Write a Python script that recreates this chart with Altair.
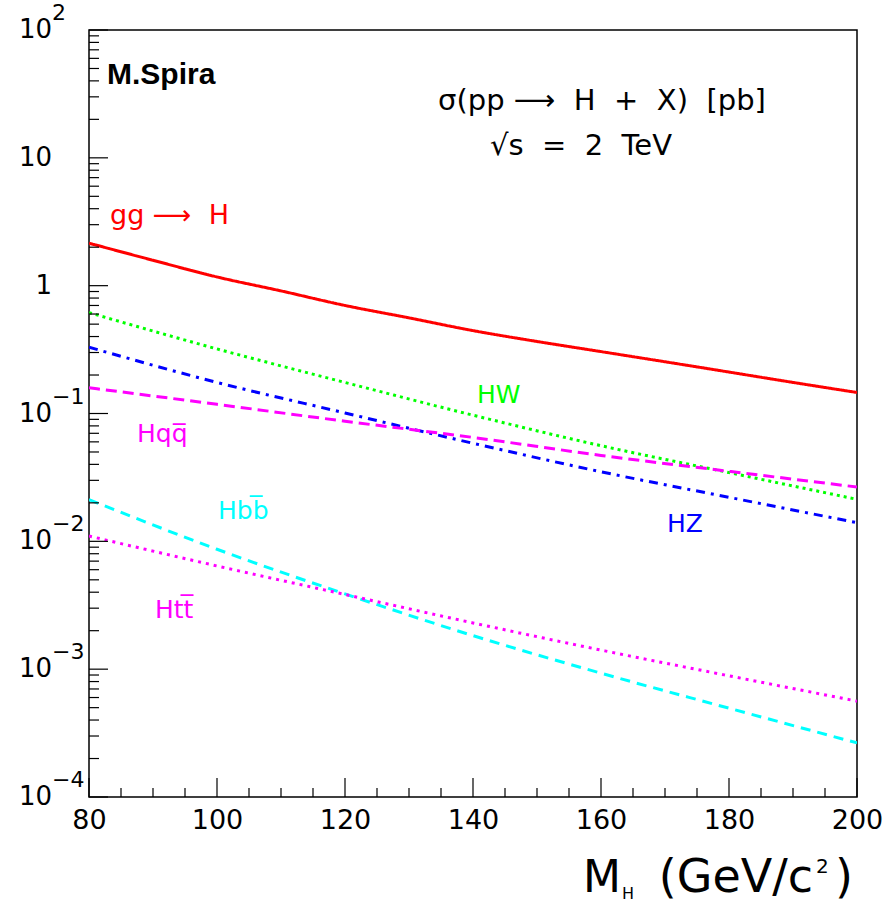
import altair as alt
import pandas as pd

# ---- data ----
gg_mass = [80, 90, 100, 110, 120, 130, 140, 150, 160, 170, 180, 190, 200]
gg_xsec = [2.15, 1.58, 1.17, 0.91, 0.70, 0.56, 0.445, 0.366, 0.305, 0.254, 0.211, 0.175, 0.146]

mass = [80, 100, 120, 140, 160, 180, 200]
hw_xsec = [0.615, 0.32, 0.175, 0.097, 0.056, 0.0345, 0.0213]
hz_xsec = [0.33, 0.175, 0.101, 0.0585, 0.035, 0.0221, 0.014]
hqq_xsec = [0.159, 0.118, 0.087, 0.065, 0.047, 0.0353, 0.0266]
hbb_xsec = [0.0212, 0.00867, 0.00388, 0.00183, 0.00093, 0.000495, 0.000265]
htt_xsec = [0.011, 0.00642, 0.00384, 0.0023, 0.00141, 0.000887, 0.000562]

series_names = ["gg", "HW", "HZ", "Hqq", "Hbb", "Htt"]
series_colors = ["#ff0000", "#00ff00", "#0000ff", "#ff00ff", "#00ffff", "#ff00ff"]
series_dash = [[1, 0], [3, 4], [9, 6, 3, 6], [11, 6], [10, 7], [3, 5]]

x_major = [80, 100, 120, 140, 160, 180, 200]
x_minor = [85, 90, 95, 105, 110, 115, 125, 130, 135, 145, 150, 155, 165, 170, 175, 185, 190, 195]
y_major = [1e2, 1e1, 1.0, 1e-1, 1e-2, 1e-3, 1e-4]
y_mant = ["10", "10", "1", "10", "10", "10", "10"]
y_exp = ["2", "", "", "\u22121", "\u22122", "\u22123", "\u22124"]
y_minor = [m * 10.0 ** k for k in range(-4, 2) for m in range(2, 10)]

rows = []
for m, v in zip(gg_mass, gg_xsec):
    rows.append({"series": "gg", "mass": m, "xsec": v})
for name, vals in zip(series_names[1:], [hw_xsec, hz_xsec, hqq_xsec, hbb_xsec, htt_xsec]):
    for m, v in zip(mass, vals):
        rows.append({"series": name, "mass": m, "xsec": v})
df = pd.DataFrame(rows)

W, H = 768, 767
xscale = alt.Scale(domain=[80, 200], nice=False, zero=False)
yscale = alt.Scale(type="log", domain=[1e-4, 1e2], nice=False)
xaxis = alt.Axis(values=x_major, ticks=False, domain=False, grid=False,
                 labelFontSize=27, labelFont="DejaVu Sans", labelColor="black",
                 labelPadding=10, labelFlush=False, labelOverlap=False, title=None)

X = lambda: alt.X("mass:Q", scale=xscale, axis=xaxis)
Y = lambda: alt.Y("xsec:Q", scale=yscale, axis=None)

lines = alt.Chart(df).mark_line(strokeWidth=3, clip=True, interpolate="monotone").encode(
    x=X(), y=Y(),
    color=alt.Color("series:N", scale=alt.Scale(domain=series_names, range=series_colors), legend=None),
    strokeDash=alt.StrokeDash("series:N", scale=alt.Scale(domain=series_names, range=series_dash), legend=None),
    detail="series:N",
)

# ticks drawn inward
xmaj = alt.Chart(pd.DataFrame({"mass": x_major})).mark_rule(color="black", strokeWidth=1.2).encode(
    x=X(), y=alt.value(H), y2=alt.value(H - 19))
xmin = alt.Chart(pd.DataFrame({"mass": x_minor})).mark_rule(color="black", strokeWidth=1.2).encode(
    x=X(), y=alt.value(H), y2=alt.value(H - 9))
ymaj = alt.Chart(pd.DataFrame({"xsec": y_major})).mark_rule(color="black", strokeWidth=1.2).encode(
    y=Y(), x=alt.value(0), x2=alt.value(19))
ymin = alt.Chart(pd.DataFrame({"xsec": y_minor})).mark_rule(color="black", strokeWidth=1.2).encode(
    y=Y(), x=alt.value(0), x2=alt.value(10))

ylab_df = pd.DataFrame({"xsec": y_major, "mant": y_mant, "exp": y_exp})
ylab = alt.Chart(ylab_df).mark_text(align="right", baseline="middle", font="DejaVu Sans",
                                    fontSize=26, color="black").encode(
    y=Y(), x=alt.value(-37), text="mant:N")
yexp = alt.Chart(ylab_df).mark_text(align="left", baseline="middle", font="DejaVu Sans",
                                    fontSize=22, color="black", dy=-17).encode(
    y=Y(), x=alt.value(-37), text="exp:N")


def label(txt, x, y, color="black", size=25, font="DejaVu Sans", weight="normal", align="left"):
    return alt.Chart(pd.DataFrame({"t": [txt]})).mark_text(
        align=align, baseline="alphabetic", font=font, fontSize=size, fontWeight=weight, color=color
    ).encode(x=alt.value(x), y=alt.value(y), text="t:N")


NB = "\u00a0"
texts = [
    label("M.Spira", 18, 54, size=30, font="Liberation Sans", weight="bold"),
    label("\u03c3(pp \u27f6" + NB * 2 + "H" + NB * 2 + "+" + NB * 2 + "X)" + NB * 2 + "[pb]",
          513, 80, size=29, align="center"),
    label("\u221as" + NB * 2 + "=" + NB * 2 + "2" + NB * 2 + "TeV", 492, 125, size=29, align="center"),
    label("gg" + NB + "\u27f6" + NB * 2 + "H", 21, 194, color="#ff0000", size=27),
    label("HW", 388, 373, color="#00ff00", size=25),
    label("HZ", 578, 502, color="#0000ff", size=25),
    label("Hqq\u0305", 48, 412, color="#ff00ff", size=25),
    label("Hbb\u0305", 129, 489, color="#00ffff", size=25),
    label("Htt\u0305", 66, 588, color="#ff00ff", size=25),
    # x-axis title
    label("M", 494, 862, size=44),
    label("H", 533, 869, size=16),
    label("(GeV/c", 724, 862, size=46, align="right"),
    label("2", 727, 843, size=20),
    label(")", 746, 862, size=46),
]

chart = alt.layer(lines, xmaj, xmin, ymaj, ymin, ylab, yexp, *texts).properties(
    width=W, height=H,
    padding={"left": 89, "top": 30, "right": 33, "bottom": 107},
    autosize=alt.AutoSizeParams(type="none"),
    background="white",
).configure_view(stroke="black", strokeWidth=1.5)

chart.save("out.html", embed_options={"renderer": "svg", "actions": False})
